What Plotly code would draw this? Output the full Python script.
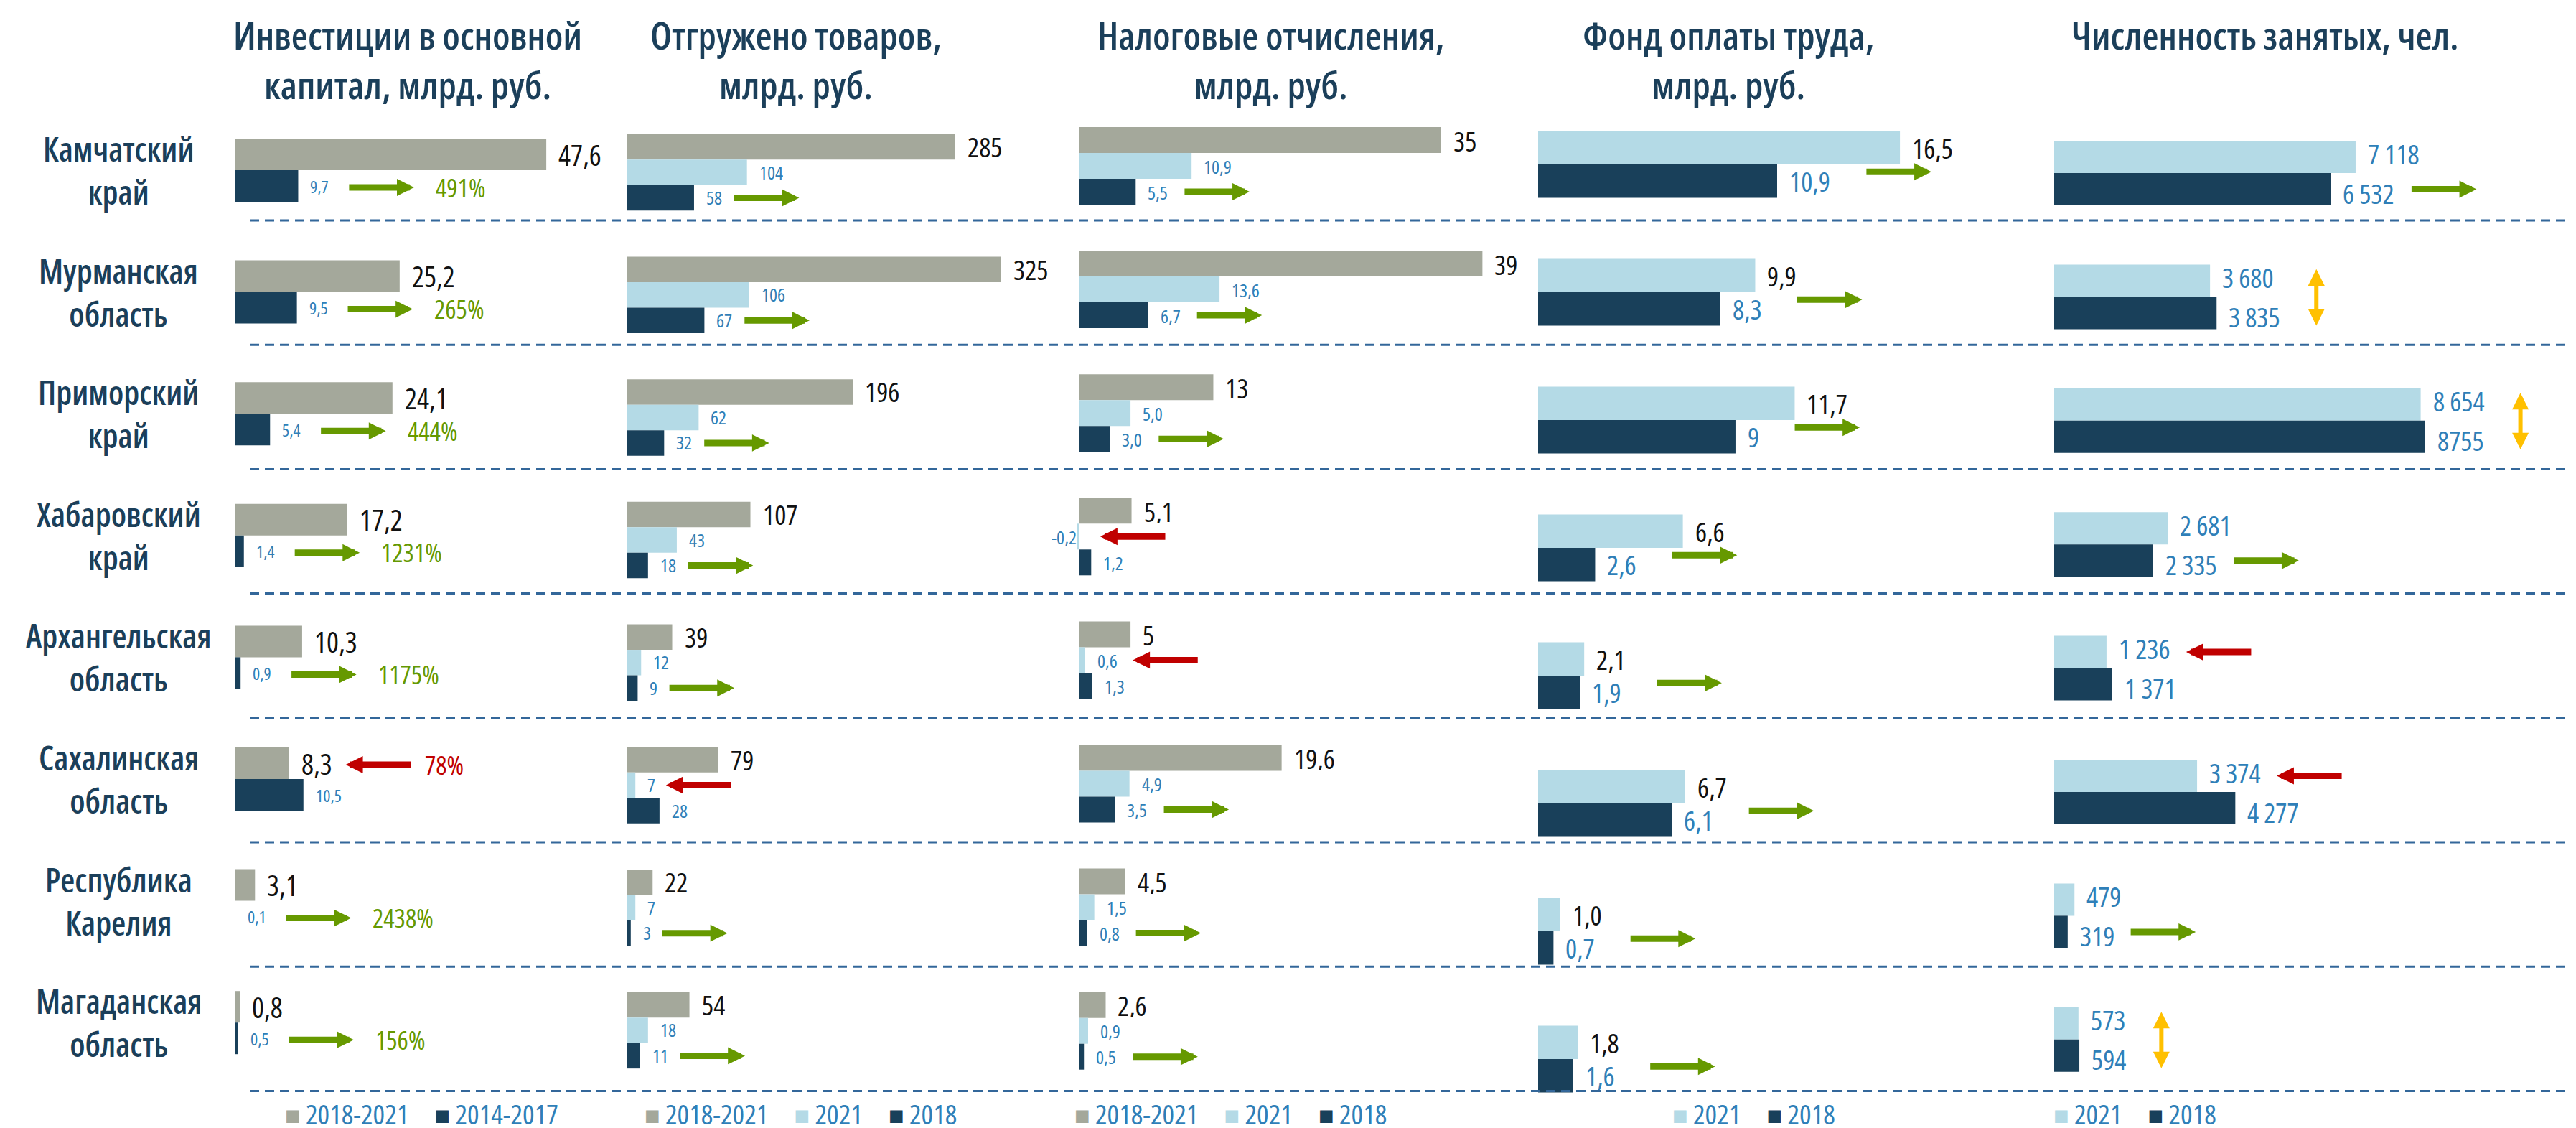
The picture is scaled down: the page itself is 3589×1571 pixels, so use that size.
import plotly.graph_objects as go

# ---------------- data ----------------
REGIONS = ["Камчатский<br>край", "Мурманская<br>область", "Приморский<br>край",
           "Хабаровский<br>край", "Архангельская<br>область", "Сахалинская<br>область",
           "Республика<br>Карелия", "Магаданская<br>область"]

TITLES = ["Инвестиции в основной<br>капитал, млрд. руб.",
          "Отгружено товаров,<br>млрд. руб.",
          "Налоговые отчисления,<br>млрд. руб.",
          "Фонд оплаты труда,<br>млрд. руб.",
          "Численность занятых, чел."]

INV_2018_2021 = [47.6, 25.2, 24.1, 17.2, 10.3, 8.3, 3.1, 0.8]
INV_2014_2017 = [9.7, 9.5, 5.4, 1.4, 0.9, 10.5, 0.1, 0.5]
INV_GROWTH_PCT = [491, 265, 444, 1231, 1175, 78, 2438, 156]

SHIP_2018_2021 = [285, 325, 196, 107, 39, 79, 22, 54]
SHIP_2021 = [104, 106, 62, 43, 12, 7, 7, 18]
SHIP_2018 = [58, 67, 32, 18, 9, 28, 3, 11]

TAX_2018_2021 = [35, 39, 13, 5.1, 5, 19.6, 4.5, 2.6]
TAX_2021 = [10.9, 13.6, 5.0, -0.2, 0.6, 4.9, 1.5, 0.9]
TAX_2018 = [5.5, 6.7, 3.0, 1.2, 1.3, 3.5, 0.8, 0.5]

WAGE_2021 = [16.5, 9.9, 11.7, 6.6, 2.1, 6.7, 1.0, 1.8]
WAGE_2018 = [10.9, 8.3, 9, 2.6, 1.9, 6.1, 0.7, 1.6]

EMP_2021 = [7118, 3680, 8654, 2681, 1236, 3374, 479, 573]
EMP_2018 = [6532, 3835, 8755, 2335, 1371, 4277, 319, 594]
EMP_2021_TEXT = ["7 118", "3 680", "8 654", "2 681", "1 236", "3 374", "479", "573"]
EMP_2018_TEXT = ["6 532", "3 835", "8755", "2 335", "1 371", "4 277", "319", "594"]

# ---------------- style ----------------
W, H = 3589, 1571
FONT = "Open Sans, Liberation Sans, sans-serif"
GRAY = "#A4A89B"
LIGHT = "#B4DAE6"
DARK = "#19405A"
NAVY = "#1B3F5A"
BLUE = "#2F7FB8"
INK = "#111111"
GREEN = "#669900"
RED = "#C00000"
YELLOW = "#FFC000"
SEP = "#33679A"
STRETCH = "font-stretch:75%"


def cond(text):
    return "<br>".join(f'<span style="{STRETCH}">{line}</span>' for line in text.split("<br>"))


def fmt(v, mode):
    if mode == "d1":
        return f"{v:.1f}".replace(".", ",")
    return f"{v:g}".replace(".", ",")


CW = {d: 0.45 for d in "0123456789"}
CW.update({",": 0.2, " ": 0.2, "-": 0.3, "%": 0.65})


def text_w(s, size):
    return size * sum(CW.get(c, 0.45) for c in s)


PANELS = [
    dict(x0=319, scale=9.12, c0=229, pitch=169.6, bh=44, gap=27, ady=2, legx=388, tx=560, spread=0,
         series=[("2018-2021", INV_2018_2021, GRAY, "d1", 40, INK, 500),
                 ("2014-2017", INV_2014_2017, DARK, "d1", 24, BLUE, 400)],
         cmp=(0, 1)),
    dict(x0=866, scale=1.603, c0=232, pitch=170.7, bh=35.5, gap=15, ady=0, legx=889, tx=1101, spread=0,
         series=[("2018-2021", SHIP_2018_2021, GRAY, "g", 38, INK, 500),
                 ("2021", SHIP_2021, LIGHT, "g", 26, BLUE, 400),
                 ("2018", SHIP_2018, DARK, "g", 26, BLUE, 400)],
         cmp=(1, 2)),
    dict(x0=1495, scale=14.42, c0=223, pitch=172.1, bh=36, gap=22, ady=0, legx=1488, tx=1762, spread=0,
         series=[("2018-2021", TAX_2018_2021, GRAY, "g", 38, INK, 500),
                 ("2021", TAX_2021, LIGHT, "d1", 26, BLUE, 400),
                 ("2018", TAX_2018, DARK, "d1", 26, BLUE, 400)],
         cmp=(1, 2)),
    dict(x0=2135, scale=30.55, c0=221, pitch=178, bh=46.5, gap=48, ady=-13, legx=2321, tx=2400, spread=0,
         series=[("2021", WAGE_2021, LIGHT, "d1", 38, INK, 500),
                 ("2018", WAGE_2018, DARK, "g", 38, BLUE, 500)],
         cmp=(0, 1)),
    dict(x0=2854, scale=0.0590, c0=233, pitch=172.4, bh=45, gap=19, ady=0, legx=2852, tx=3148, spread=5,
         series=[("2021", EMP_2021, LIGHT, EMP_2021_TEXT, 38, BLUE, 500),
                 ("2018", EMP_2018, DARK, EMP_2018_TEXT, 38, BLUE, 500)],
         cmp=(0, 1)),
]

PAD = 16
ARROW_LEN = 92
LEGEND_BOTTOM = 1570
SEP_Y0, SEP_PITCH = 299, 173.2

fig = go.Figure()
annotations = []
shapes = []
layout_axes = {}

for k, p in enumerate(PANELS):
    sfx = "" if k == 0 else str(k + 1)
    xa, ya = "x" + sfx, "y" + sfx
    x_next = PANELS[k + 1]["x0"] if k + 1 < len(PANELS) else W + 40
    d0 = (p["x0"] - 40) / W
    d1 = min(1.0, (x_next - 40) / W)
    sc, pitch, bh = p["scale"], p["pitch"], p["bh"]
    layout_axes["xaxis" + sfx] = dict(domain=[d0, d1], range=[-40 / sc, (d1 * W - p["x0"]) / sc],
                                      visible=False, anchor=ya, fixedrange=True)
    layout_axes["yaxis" + sfx] = dict(domain=[0, 1], range=[(H - p["c0"]) / pitch, -p["c0"] / pitch],
                                      visible=False, anchor=xa, fixedrange=True)
    n = len(p["series"])
    offs = [(j - (n - 1) / 2) * bh / pitch for j in range(n)]
    texts_all = []
    for j, (name, vals, col, mode, fs, tcol, wt) in enumerate(p["series"]):
        ys = [i + offs[j] for i in range(len(vals))]
        fig.add_trace(go.Bar(x=vals, y=ys, orientation="h", width=bh / pitch,
                             marker=dict(color=col, line=dict(width=0)), name=name,
                             xaxis=xa, yaxis=ya, showlegend=False, hoverinfo="skip"))
        texts = mode if isinstance(mode, list) else [fmt(v, mode) for v in vals]
        texts_all.append(texts)
        ysh = p["spread"] * (1 if j == 0 else -1)
        for i, v in enumerate(vals):
            annotations.append(dict(x=v if v >= 0 else 0, y=ys[i], xref=xa, yref=ya, text=cond(texts[i]),
                                    showarrow=False, xanchor="left" if v >= 0 else "right",
                                    xshift=PAD if v >= 0 else -2, yshift=ysh, yanchor="middle",
                                    height=bh - 1, valign="middle", borderpad=0,
                                    font=dict(family=FONT, size=fs, color=tcol, weight=wt)))
    # trend arrows
    a, b = p["cmp"]
    va, vb = p["series"][a][1], p["series"][b][1]
    for i in range(len(va)):
        ratio = INV_GROWTH_PCT[i] / 100 if k == 0 else va[i] / vb[i]

        def end_px(j):
            v = p["series"][j][1][i]
            fs = p["series"][j][4]
            if v < 0:
                return p["x0"] + 8
            return p["x0"] + v * sc + PAD + text_w(texts_all[j][i], fs)

        if 0.95 <= ratio <= 1.05:
            xc_px = max(end_px(a), end_px(b)) + p["gap"] + 28
            xc = (xc_px - p["x0"]) / sc
            annotations.append(dict(x=xc, y=i + 0.89 * bh / pitch, ax=xc, ay=i - 0.89 * bh / pitch,
                                    xref=xa, yref=ya, axref=xa, ayref=ya, text="", showarrow=True,
                                    arrowside="end+start", arrowhead=2, startarrowhead=2,
                                    arrowsize=0.77, startarrowsize=0.77, arrowwidth=6,
                                    arrowcolor=YELLOW))
            continue
        lvl = a if va[i] <= vb[i] else b
        y = i + offs[lvl] + p["ady"] / pitch
        start_px = end_px(lvl) + p["gap"]
        if va[i] < 0:
            start_px = p["x0"] + 30
        up = ratio > 1
        if not up and k == 0:
            start_px -= 8
        xs = (start_px - p["x0"]) / sc
        xe = (start_px + ARROW_LEN - p["x0"]) / sc
        col = GREEN if up else RED
        annotations.append(dict(x=xe if up else xs, y=y, ax=xs if up else xe, ay=y,
                                xref=xa, yref=ya, axref=xa, ayref=ya, text="", showarrow=True,
                                arrowhead=2, arrowsize=0.53, arrowwidth=9, arrowcolor=col))
        if k == 0:
            annotations.append(dict(x=xe, y=y, xref=xa, yref=ya, text=cond(f"{INV_GROWTH_PCT[i]}%"),
                                    showarrow=False, xanchor="left", yanchor="middle",
                                    xshift=28 if up else 16,
                                    font=dict(family=FONT, size=36, color=col, weight=500)))
    # title
    annotations.append(dict(x=p["tx"] / W, y=1 - 2 / H, xref="paper", yref="paper", text=cond(TITLES[k]),
                            showarrow=False, xanchor="center", yanchor="top",
                            font=dict(family=FONT, size=53, color=NAVY, weight=600)))
    # legend
    parts = []
    for (name, vals, col, mode, fs, tcol, wt) in p["series"]:
        parts.append(f'<span style="color:{col};font-size:36px">■</span>'
                     f'<span style="{STRETCH}">&nbsp;{name}</span>')
    sep_txt = f'<span style="{STRETCH}">&nbsp;&nbsp;&nbsp;&nbsp;&nbsp;</span>'
    annotations.append(dict(x=p["legx"] / W, y=1 - LEGEND_BOTTOM / H, xref="paper", yref="paper",
                            text=sep_txt.join(parts), showarrow=False,
                            xanchor="left", yanchor="bottom", borderpad=0,
                            font=dict(family=FONT, size=39, color=BLUE)))

# region labels
for i, r in enumerate(REGIONS):
    annotations.append(dict(x=157 / W, y=i, xref="paper", yref="y", text=cond(r), showarrow=False,
                            xanchor="center", yanchor="middle",
                            font=dict(family=FONT, size=46, color=NAVY, weight=600)))

# row separators
for i in range(len(REGIONS)):
    yp = 1 - (SEP_Y0 + i * SEP_PITCH) / H
    shapes.append(dict(type="line", xref="paper", yref="paper", x0=340 / W, x1=3565 / W,
                       y0=yp, y1=yp, line=dict(color=SEP, width=3, dash="13px,8px")))

fig.update_layout(width=W, height=H, margin=dict(l=0, r=0, t=0, b=0),
                  paper_bgcolor="white", plot_bgcolor="rgba(0,0,0,0)",
                  barmode="overlay", showlegend=False,
                  annotations=annotations, shapes=shapes, **layout_axes)

fig.write_html("out.html")
